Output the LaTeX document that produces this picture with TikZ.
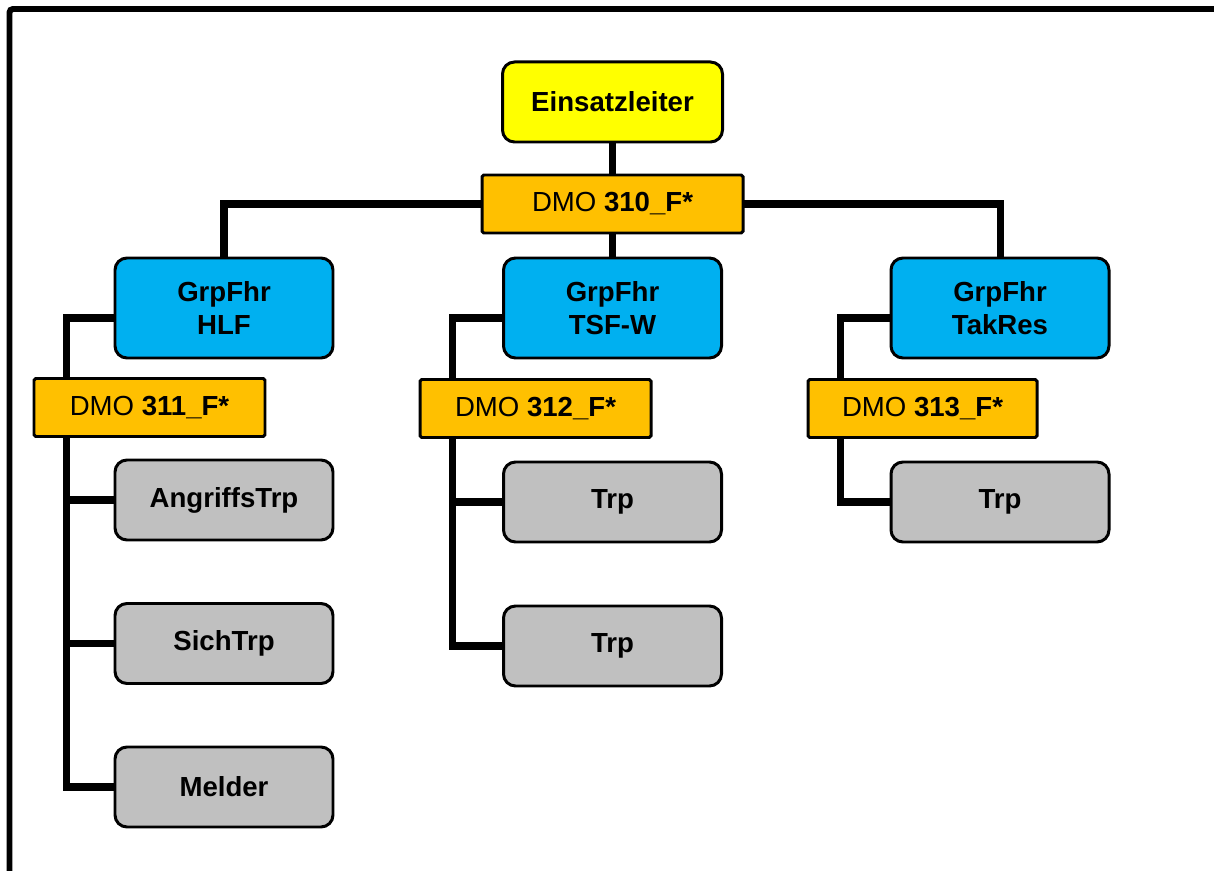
\documentclass[tikz,border=0pt]{standalone}
\usepackage{fontspec}
\setmainfont{Liberation Sans}
\usetikzlibrary{backgrounds}
\definecolor{leiter}{HTML}{FFFF00}
\definecolor{grpblue}{HTML}{00B0F0}
\definecolor{dmoorange}{HTML}{FFC000}
\definecolor{trpgrey}{HTML}{C0C0C0}
\tikzset{
  box/.style={draw, line width=1.7pt, rounded corners=0.24cm, minimum width=4.36cm,
    minimum height=1.6cm, align=center, font=\fontsize{15.7}{18.5}\selectfont\bfseries},
  dmobox/.style={draw, line width=1.7pt, rounded corners=1pt, fill=dmoorange,
    minimum height=1.16cm, font=\fontsize{15.7}{18.5}\selectfont},
  conn/.style={line width=4pt, line cap=rect}
}
\begin{document}
\begin{tikzpicture}

    % --- Frame ---
    \useasboundingbox (0,0) rectangle (24.28,17.4);
    \draw[line width=3.4pt, rounded corners=2pt] (0.19,-1) -- (0.19,17.22) -- (25,17.22);

    % --- Top ---
    \node[box, fill=leiter, minimum width=4.4cm] (leiter) at (12.25,15.36) {Einsatzleiter};
    \node[dmobox, minimum width=5.22cm] (dmoz) at (12.25,13.32) {DMO \textbf{310\_F*}};

    % --- Group leaders ---
    \node[box, fill=grpblue, minimum height=2.0cm] (hlf) at (4.48,11.24) {GrpFhr\\HLF};
    \node[box, fill=grpblue, minimum height=2.0cm] (tsf) at (12.25,11.24) {GrpFhr\\TSF-W};
    \node[box, fill=grpblue, minimum height=2.0cm] (takres) at (20.0,11.24) {GrpFhr\\TakRes};

    % --- Group channels ---
    \node[dmobox, minimum width=4.62cm] (dmoa) at (2.99,9.25) {DMO \textbf{311\_F*}};
    \node[dmobox, minimum width=4.62cm] (dmob) at (10.71,9.23) {DMO \textbf{312\_F*}};
    \node[dmobox, minimum width=4.58cm] (dmoc) at (18.45,9.23) {DMO \textbf{313\_F*}};

    % --- Troops ---
    \node[box, fill=trpgrey] (angr) at (4.48,7.4) {AngriffsTrp};
    \node[box, fill=trpgrey] (sich) at (4.48,4.53) {SichTrp};
    \node[box, fill=trpgrey] (melder) at (4.48,1.66) {Melder};
    \node[box, fill=trpgrey] (trpba) at (12.25,7.36) {Trp};
    \node[box, fill=trpgrey] (trpbb) at (12.25,4.48) {Trp};
    \node[box, fill=trpgrey] (trpc) at (20.0,7.36) {Trp};

    % trunk points
    \coordinate (ta) at ([xshift=0.68cm]dmoa.south west);
    \coordinate (tb) at ([xshift=0.68cm]dmob.south west);
    \coordinate (tc) at ([xshift=0.68cm]dmoc.south west);

    % --- Connectors (behind the boxes) ---
    \begin{pgfonlayer}{background}
    \draw[conn] (leiter.south) -- (dmoz.north);
    \draw[conn] (dmoz.south) -- (tsf.north);
    \draw[conn] (dmoz.west) -| (hlf.north);
    \draw[conn] (dmoz.east) -| (takres.north);

    \draw[conn] ([yshift=-0.2cm]hlf.west) -| ([xshift=0.68cm]dmoa.north west);
    \draw[conn] ([yshift=-0.2cm]tsf.west) -| ([xshift=0.68cm]dmob.north west);
    \draw[conn] ([yshift=-0.2cm]takres.west) -| ([xshift=0.68cm]dmoc.north west);

    \draw[conn] (ta) |- (melder.west);
    \draw[conn] (angr.west) -- (angr.west -| ta);
    \draw[conn] (sich.west) -- (sich.west -| ta);
    \draw[conn] (tb) |- (trpbb.west);
    \draw[conn] (trpba.west) -- (trpba.west -| tb);
    \draw[conn] (tc) |- (trpc.west);
    \end{pgfonlayer}

\end{tikzpicture}
\end{document}
